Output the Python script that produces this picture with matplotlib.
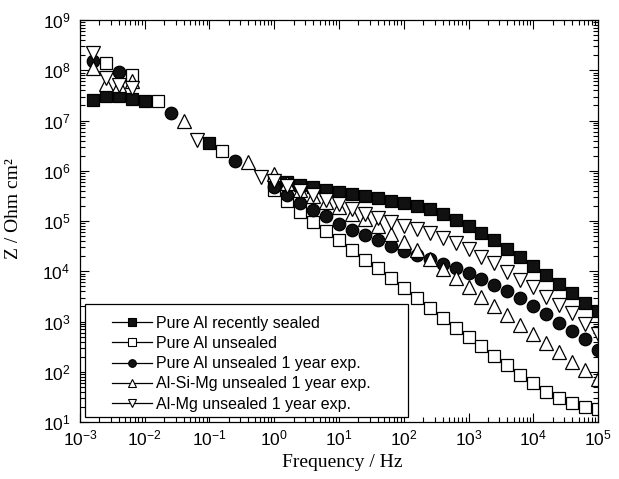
import matplotlib
matplotlib.use("Agg")
import matplotlib.pyplot as plt
from matplotlib.lines import Line2D
from matplotlib.patches import Rectangle
import numpy as np

# fonts: sans for ticks/legend, serif for the axis titles
plt.rcParams['font.family'] = ['Liberation Sans', 'DejaVu Sans']
plt.rcParams['mathtext.fontset'] = 'custom'
plt.rcParams['mathtext.rm'] = 'Liberation Sans'
plt.rcParams['mathtext.default'] = 'regular'

# ---------------- data ----------------
x_ticks = [1e-3, 1e-2, 1e-1, 1e0, 1e1, 1e2, 1e3, 1e4, 1e5]
y_ticks = [1e1, 1e2, 1e3, 1e4, 1e5, 1e6, 1e7, 1e8, 1e9]

# common high frequency part, Hz
freq_hi = [1, 1.58, 2.51, 3.98, 6.31, 10, 15.8, 25.1, 39.8, 63.1, 100, 158, 251, 398, 631,
           1000, 1585, 2512, 3981, 6310, 1e4, 15849, 25119, 39811, 63096, 1e5]

# Pure Al recently sealed
freq_sealed_lo = [1.58e-3, 2.51e-3, 3.98e-3, 6.31e-3, 1e-2, 0.1]
z_sealed_lo = [2.57e7, 3.09e7, 3.09e7, 2.63e7, 2.45e7, 3.55e6]
z_sealed_hi = [6.6e5, 5.9e5, 5.25e5, 4.68e5, 4.17e5, 3.8e5, 3.47e5, 3.16e5, 2.82e5, 2.51e5,
               2.29e5, 2.0e5, 1.70e5, 1.38e5, 1.07e5, 7.94e4, 5.89e4, 4.17e4, 2.75e4, 1.91e4,
               1.29e4, 8.51e3, 5.62e3, 3.63e3, 2.34e3, 1.62e3]

# Pure Al unsealed
freq_unsealed_lo = [2.51e-3, 6.31e-3, 1.58e-2, 0.158]
z_unsealed_lo = [1.38e8, 8.1e7, 2.45e7, 2.45e6]
z_unsealed_hi = [4.17e5, 2.51e5, 1.51e5, 9.55e4, 6.31e4, 4.17e4, 2.63e4, 1.66e4, 1.15e4, 7.24e3,
                 4.57e3, 2.88e3, 1.82e3, 1.20e3, 759, 501, 324, 204, 135, 87,
                 59, 40, 29.5, 24, 20, 18.2]

# Pure Al unsealed 1 year exp.
freq_al1y_lo = [1.58e-3, 3.98e-3, 2.51e-2, 0.251]
z_al1y_lo = [1.55e8, 9.33e7, 1.41e7, 1.58e6]
z_al1y_hi = [4.79e5, 3.31e5, 2.24e5, 1.62e5, 1.23e5, 8.91e4, 6.76e4, 5.25e4, 4.17e4, 3.16e4,
             2.51e4, 2.09e4, 1.78e4, 1.41e4, 1.15e4, 9.12e3, 7.08e3, 5.37e3, 4.07e3, 2.88e3,
             2.04e3, 1.38e3, 955, 661, 447, 269]

# Al-Si-Mg unsealed 1 year exp.
freq_alsimg_lo = [1.58e-3, 2.51e-3, 3.98e-3, 6.31e-3, 3.98e-2, 0.398]
z_alsimg_lo = [1.10e8, 5.25e7, 5.01e7, 6.03e7, 9.77e6, 1.48e6]
z_alsimg_hi = [8.51e5, 5.75e5, 4.17e5, 3.09e5, 2.34e5, 1.86e5, 1.41e5, 1.10e5, 8.13e4, 5.62e4,
               3.80e4, 2.63e4, 1.78e4, 1.12e4, 7.24e3, 4.90e3, 3.09e3, 2.04e3, 1.35e3, 851,
               575, 372, 251, 158, 107, 71]

# Al-Mg unsealed 1 year exp.
freq_almg_lo = [1.58e-3, 2.51e-3, 3.98e-3, 6.31e-3, 6.31e-2, 0.631]
z_almg_lo = [2.19e8, 6.92e7, 5.13e7, 4.37e7, 4.07e6, 7.41e5]
z_almg_hi = [6.31e5, 5.01e5, 3.98e5, 3.24e5, 2.63e5, 2.14e5, 1.70e5, 1.38e5, 1.15e5, 9.77e4,
             8.13e4, 6.92e4, 5.75e4, 4.57e4, 3.63e4, 2.75e4, 1.95e4, 1.45e4, 9.77e3, 6.76e3,
             4.79e3, 3.09e3, 2.14e3, 1.45e3, 912, 575]

labels = ['Pure Al recently sealed', 'Pure Al unsealed', 'Pure Al unsealed 1 year exp.',
          'Al-Si-Mg unsealed 1 year exp.', 'Al-Mg unsealed 1 year exp.']

series = [
    (freq_sealed_lo + freq_hi, z_sealed_lo + z_sealed_hi, 's', '#111111', 8.4),
    (freq_unsealed_lo + freq_hi, z_unsealed_lo + z_unsealed_hi, 's', 'white', 8.4),
    (freq_al1y_lo + freq_hi, z_al1y_lo + z_al1y_hi, 'o', '#111111', 9.0),
    (freq_alsimg_lo + freq_hi, z_alsimg_lo + z_alsimg_hi, '^', 'white', 10.0),
    (freq_almg_lo + freq_hi, z_almg_lo + z_almg_hi, 'v', 'white', 10.0),
]

# ---------------- figure ----------------
fig = plt.figure(figsize=(6.19, 4.79), dpi=100)
ax = fig.add_axes([0.1292, 0.119, 0.8369, 0.8392])

for f, z, m, fc, ms in series:
    ax.plot(f, z, linestyle='none', marker=m, markersize=ms, markerfacecolor=fc,
            markeredgecolor='black', markeredgewidth=0.9)

ax.set_xscale('log')
ax.set_yscale('log')
ax.set_xlim(1e-3, 1e5)
ax.set_ylim(1e1, 1e9)
ax.xaxis.set_major_locator(matplotlib.ticker.FixedLocator(x_ticks))
ax.yaxis.set_major_locator(matplotlib.ticker.FixedLocator(y_ticks))
ax.xaxis.set_major_formatter(matplotlib.ticker.LogFormatterSciNotation())
ax.yaxis.set_major_formatter(matplotlib.ticker.LogFormatterSciNotation())
ax.xaxis.set_minor_locator(matplotlib.ticker.LogLocator(base=10, subs=np.arange(2, 10), numticks=20))
ax.yaxis.set_minor_locator(matplotlib.ticker.LogLocator(base=10, subs=np.arange(2, 10), numticks=20))
ax.xaxis.set_minor_formatter(matplotlib.ticker.NullFormatter())
ax.yaxis.set_minor_formatter(matplotlib.ticker.NullFormatter())

ax.tick_params(which='both', direction='in', top=True, right=True, width=0.8, colors='black')
ax.tick_params(which='major', length=6.5, labelsize=12.5)
ax.tick_params(which='minor', length=3.6)
ax.tick_params(axis='x', which='major', pad=5)
ax.tick_params(axis='y', which='major', pad=7)
for sp in ax.spines.values():
    sp.set_linewidth(0.9)

ax.set_xlabel('Frequency / Hz', family='Liberation Serif', fontsize=14)
ax.set_ylabel('Z / Ohm cm²', family='Liberation Serif', fontsize=14)
ax.xaxis.set_label_coords(0.507, -0.08)
ax.yaxis.set_label_coords(-0.112, 0.53)

# legend box (drawn separately so the padding matches)
ax.add_patch(Rectangle((0.0097, 0.012), 0.6236, 0.2816, transform=ax.transAxes,
                       facecolor='white', edgecolor='black', linewidth=0.9, zorder=5))

handles = []
for f, z, m, fc, ms in series:
    handles.append(Line2D([], [], color='black', linewidth=0.9, marker=m, markersize=5.5,
                          markerfacecolor=fc, markeredgecolor='black', markeredgewidth=0.8))
leg = ax.legend(handles, labels, loc='center left', bbox_to_anchor=(0.0612, 0.145),
                frameon=False, fontsize=11.5, handlelength=2.5, handletextpad=0.3,
                labelspacing=0.33, borderpad=0, borderaxespad=0)
leg.set_zorder(6)

fig.savefig('out.png', dpi=100)
plt.close()
